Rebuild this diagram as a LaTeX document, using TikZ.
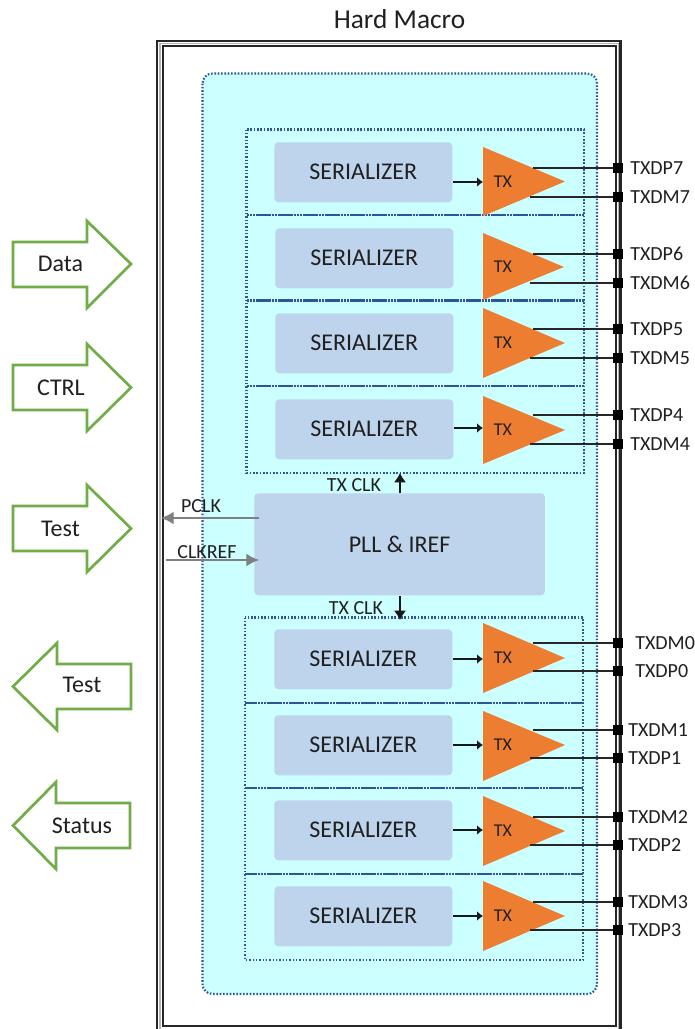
\documentclass[tikz,border=0pt]{standalone}
\usepackage{fontspec}
\setmainfont{Carlito}
\usetikzlibrary{arrows.meta}
\definecolor{dotblue}{HTML}{2F5597}
\definecolor{panelcyan}{HTML}{CCFFFF}
\definecolor{blockblue}{HTML}{BDD4EC}
\definecolor{txorange}{HTML}{ED7D31}
\definecolor{arrowgreen}{HTML}{70AD47}
\definecolor{inktext}{HTML}{202020}
\tikzset{
  frameline/.style={draw=black!85,line width=1.6pt},
  framecore/.style={draw=black!30,line width=1.1pt},
  panel/.style={fill=panelcyan,draw=dotblue,line width=1.6pt,dash pattern=on 1.2pt off 1.3pt,rounded corners=7.5pt},
  group/.style={draw=dotblue,line width=1.6pt,dash pattern=on 1.2pt off 1.3pt},
  divider/.style={draw=dotblue,line width=2pt,dash pattern=on 2pt off .35pt},
  block/.style={fill=blockblue,rounded corners=3pt,text=inktext,font=\fontsize{18}{20}\selectfont,anchor=north west,inner sep=0pt},
  txshape/.style={fill=txorange},
  txtext/.style={text=inktext,font=\fontsize{13.5}{15}\selectfont,inner sep=0pt},
  pad/.style={fill=black,minimum size=7.5pt,inner sep=0pt},
  padlabel/.style={text=inktext,font=\fontsize{15}{17}\selectfont,anchor=west,inner sep=0pt},
  sigwire/.style={draw=black!85,line width=1pt},
  inwire/.style={draw=black!90,line width=.9pt,-{Latex[length=4.5pt,width=7.5pt]}},
  clkwire/.style={draw=black!90,line width=.9pt,-{Latex[length=7pt,width=9pt]}},
  greywire/.style={draw=black!50,line width=1pt,-{Latex[length=9.5pt,width=9.5pt]}},
  clktext/.style={text=inktext,font=\fontsize{15}{17}\selectfont,inner sep=0pt},
  blockarrow/.style={draw=arrowgreen,line width=2pt,fill=white,miter limit=10},
  arrowtext/.style={text=inktext,font=\fontsize{18}{20}\selectfont,inner sep=0pt},
}
% #1 name, #2 left x, #3 top y, #4 tip x, #5 bottom y, #6 centre y
\newcommand{\txtri}[6]{%
  \coordinate (#1a) at (#2,#3);
  \coordinate (#1t) at (#4,#6);
  \coordinate (#1b) at (#2,#5);
  \coordinate (#1w) at (#2,#6);
  \fill[txshape] (#1a) -- (#1t) -- (#1b) -- cycle;
  \node[txtext] (#1l) at (503,#6) {TX};
}
% #1 name, #2 left x, #3 top y
\newcommand{\serial}[3]{%
  \node[block,minimum width=133.5pt,minimum height=45pt] (#1) at (#2,#3) {SERIALIZER};
}
% #1 name, #2 wire start x, #3 y, #4 label x, #5 text
\newcommand{\outpin}[5]{%
  \coordinate (#1s) at (#2,#3);
  \node[pad] (#1) at (618,#3) {};
  \draw[sigwire] (#1s) -- (#1.west);
  \node[padlabel] (#1l) at (#4,#3) {#5};
}
\begin{document}
\begin{tikzpicture}[x=0.75pt,y=-0.75pt]
\useasboundingbox (0,0) rectangle (695,1029);
\fill[white] (0,0) rectangle (695,1029);
\node[text=inktext,font=\fontsize{20.5}{23}\selectfont,inner sep=0pt] (title) at (399.5,19) {Hard Macro};
% frame
\coordinate (ca) at (160,1029); \coordinate (cb) at (160,43.5);
\coordinate (cc) at (618.5,43.5); \coordinate (cd) at (618.5,1029);
\draw[framecore] (ca) -- (cb) -- (cc) -- (cd);
\coordinate (fa) at (157,1029); \coordinate (fb) at (157,41);
\coordinate (fc) at (620.5,41); \coordinate (fd) at (620.5,1029);
\draw[frameline] (fa) -- (fb) -- (fc) -- (fd);
\coordinate (ga) at (163,1026); \coordinate (gb) at (163,46);
\coordinate (gc) at (616,46); \coordinate (gd) at (616,1026);
\draw[frameline] (ga) -- (gb) -- (gc) -- (gd) -- cycle;
% panel and groups
\draw[panel] (202.5,73.5) rectangle (597,994);
\draw[group] (246.5,129.5) rectangle (584,473);
\draw[group] (245,617.5) rectangle (583,960);
\foreach \yy in {215,300.5,386} \draw[divider] (246.5,\yy) -- (584,\yy);
\foreach \yy in {703,788,874} \draw[divider] (245,\yy) -- (583,\yy);
% serializers
\serial{s7}{274}{142}
\serial{s6}{275}{228}
\serial{s5}{275}{313}
\serial{s4}{275}{399}
\serial{s0}{274}{629}
\serial{s1}{274}{715}
\serial{s2}{274}{800}
\serial{s3}{274}{886}
% amplifiers
\txtri{t7}{483}{147}{565}{216}{181.5}
\txtri{t6}{483}{233}{564}{300}{267}
\txtri{t5}{483}{308}{565}{378}{343}
\txtri{t4}{483}{396}{565}{464}{430}
\txtri{t0}{483}{623}{565}{693}{658}
\txtri{t1}{483}{711}{565}{781}{745}
\txtri{t2}{483}{796}{565}{866}{831}
\txtri{t3}{483}{881}{565}{951}{916}
% serializer to TX
\foreach \nm/\yy in {s7/182,s4/428,s0/659,s1/745,s2/830,s3/916}
  \draw[inwire] (\nm.east |- 0,\yy) -- (483,\yy);
% outputs
\outpin{p7}{533}{168}{630}{TXDP7}
\outpin{m7}{530}{197}{630}{TXDM7}
\outpin{p6}{533}{254}{630}{TXDP6}
\outpin{m6}{530}{283}{630}{TXDM6}
\outpin{p5}{533}{329}{630}{TXDP5}
\outpin{m5}{530}{358}{630}{TXDM5}
\outpin{p4}{533}{415}{630}{TXDP4}
\outpin{m4}{530}{444}{630}{TXDM4}
\outpin{m0}{533}{643}{635}{TXDM0}
\outpin{p0}{533}{671}{635}{TXDP0}
\outpin{m1}{533}{730}{628}{TXDM1}
\outpin{p1}{530}{758}{628}{TXDP1}
\outpin{m2}{533}{817}{628}{TXDM2}
\outpin{p2}{530}{845}{628}{TXDP2}
\outpin{m3}{533}{902}{628}{TXDM3}
\outpin{p3}{530}{930}{628}{TXDP3}
% PLL
\node[block,minimum width=218pt,minimum height=76.5pt] (pll) at (254,493) {PLL \& IREF};
\coordinate (upgroup) at (400,473);
\coordinate (downgroup) at (400,620);
\draw[clkwire] (pll.north -| upgroup) -- (upgroup);
\draw[clkwire] (pll.south -| downgroup) -- (downgroup);
\node[clktext] (clkup) at (354,485) {TX CLK};
\node[clktext] (clkdown) at (356,608) {TX CLK};
\coordinate (pclkend) at (161,518);
\coordinate (refstart) at (166,560);
\coordinate (refend) at (259,560);
\draw[greywire] (pll.west |- pclkend) ++(5,0) -- (pclkend);
\draw[greywire] (refstart) -- (refend);
\node[clktext] (pclk) at (201,506) {PCLK};
\node[clktext] (clkref) at (207,552) {CLKREF};
% block arrows
\draw[blockarrow] (13,242) -- (87,242) -- (87,221) -- (131,264) -- (87,308) -- (87,287) -- (13,287) -- cycle;
\node[arrowtext] (data) at (60.5,264) {Data};
\draw[blockarrow] (13,365) -- (87,365) -- (87,344) -- (131,387.5) -- (87,431) -- (87,410) -- (13,410) -- cycle;
\node[arrowtext] (ctrl) at (61,388) {CTRL};
\draw[blockarrow] (13,506) -- (87,506) -- (87,485) -- (131,528.5) -- (87,572) -- (87,551) -- (13,551) -- cycle;
\node[arrowtext] (testin) at (60.5,529) {Test};
\draw[blockarrow] (131,664) -- (57,664) -- (57,643) -- (13,686.5) -- (57,730) -- (57,709) -- (131,709) -- cycle;
\node[arrowtext] (testout) at (82,685) {Test};
\draw[blockarrow] (130,803) -- (56,803) -- (56,782) -- (13,825.5) -- (56,869) -- (56,848) -- (130,848) -- cycle;
\node[arrowtext] (status) at (82,826) {Status};
\end{tikzpicture}
\end{document}
